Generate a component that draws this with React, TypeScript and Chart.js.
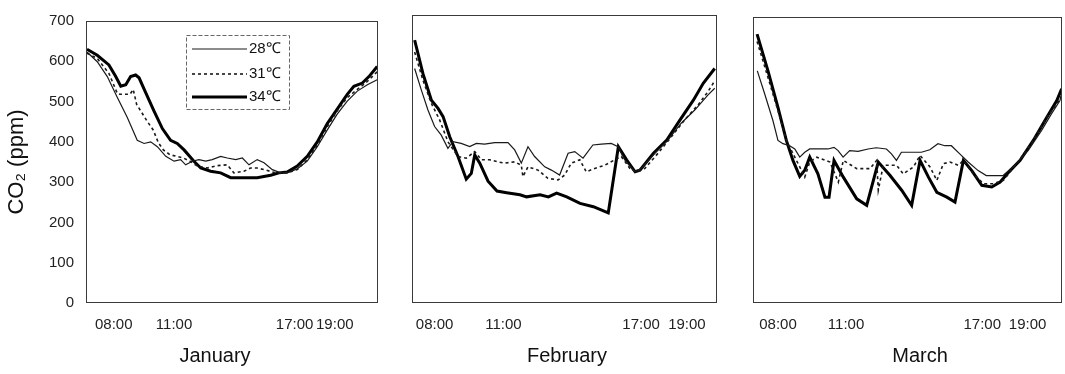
import React, { useEffect, useRef } from 'react';
import { Chart, registerables } from 'chart.js';

Chart.register(...registerables);
Chart.defaults.font.family = '"Liberation Sans", Arial, Helvetica, sans-serif';
Chart.defaults.color = '#222';

// ---- axis text ----
const tickHours = [8, 11, 17, 19];
const tickLabels = ['08:00', '11:00', '17:00', '19:00'];
const seriesLabels = ['28℃', '31℃', '34℃'];
const months = ['January', 'February', 'March'];
const yTitle = 'CO₂ (ppm)';

// ---- January (time in hours, CO2 in ppm) ----
const janTime28 = [6.67, 7.18, 7.68, 8.18, 8.67, 9.17, 9.51, 9.84, 10.17, 10.59, 11.0, 11.33, 11.58, 11.91, 12.24, 12.58, 12.9, 13.32, 13.65, 14.07, 14.4, 14.73, 15.14, 15.48, 15.89, 16.31, 16.72, 17.13, 17.63, 18.13, 18.62, 19.12, 19.62, 20.12, 20.62, 21.11];
const jan28 = [623, 599, 562, 510, 461, 404, 396, 400, 388, 364, 352, 356, 343, 352, 356, 352, 356, 364, 360, 356, 360, 343, 356, 348, 331, 323, 325, 333, 352, 388, 429, 469, 501, 526, 542, 554];
const janTime31 = [6.67, 7.18, 7.76, 8.18, 8.31, 8.81, 8.97, 9.14, 9.64, 9.97, 10.22, 10.47, 10.8, 11.13, 11.46, 11.8, 12.16, 12.65, 13.15, 13.65, 13.98, 14.48, 14.81, 15.14, 15.56, 16.06, 16.63, 17.13, 17.63, 18.13, 18.62, 19.12, 19.62, 20.12, 20.62, 21.11];
const jan31 = [620, 607, 570, 520, 518, 518, 530, 493, 453, 429, 398, 380, 368, 364, 360, 352, 340, 335, 341, 343, 323, 327, 335, 335, 330, 323, 323, 331, 356, 392, 437, 477, 510, 530, 550, 574];
const janTime34 = [6.67, 7.18, 7.76, 8.1, 8.35, 8.6, 8.84, 9.09, 9.26, 9.59, 10.0, 10.42, 10.83, 11.16, 11.5, 11.99, 12.33, 12.82, 13.32, 13.82, 15.14, 15.81, 16.22, 16.63, 17.13, 17.63, 18.13, 18.62, 19.12, 19.62, 19.95, 20.37, 20.7, 21.11];
const jan34 = [630, 615, 591, 562, 538, 542, 562, 566, 559, 522, 477, 433, 404, 396, 380, 352, 335, 327, 323, 311, 311, 317, 323, 325, 340, 364, 400, 445, 481, 518, 538, 546, 562, 587];

// ---- February ----
const febTime28 = [7.13, 7.42, 7.71, 8.0, 8.29, 8.58, 8.8, 9.16, 9.53, 9.82, 10.18, 10.62, 11.2, 11.49, 11.78, 12.07, 12.36, 12.8, 13.09, 13.45, 13.82, 14.11, 14.47, 14.9, 15.27, 15.7, 16.0, 16.29, 16.72, 17.01, 17.6, 18.17, 18.75, 19.34, 19.92, 20.21];
const feb28 = [570, 518, 469, 429, 408, 376, 392, 388, 380, 388, 386, 390, 390, 372, 340, 380, 356, 331, 323, 311, 364, 368, 352, 384, 386, 388, 380, 348, 319, 327, 364, 396, 437, 469, 506, 522];
const febTime31 = [7.13, 7.49, 7.86, 8.22, 8.58, 9.02, 9.38, 9.75, 10.04, 10.4, 10.76, 11.06, 11.49, 11.78, 11.85, 12.07, 12.51, 12.94, 13.38, 13.67, 13.96, 14.33, 14.61, 14.98, 15.42, 15.85, 16.14, 16.51, 16.79, 17.16, 17.74, 18.32, 18.9, 19.48, 19.92, 20.21];
const feb31 = [610, 542, 485, 445, 392, 356, 352, 368, 348, 348, 343, 340, 343, 335, 307, 331, 323, 303, 299, 311, 340, 348, 319, 327, 335, 348, 356, 327, 319, 327, 364, 404, 445, 481, 514, 540];
const febTime34 = [7.13, 7.49, 7.86, 8.15, 8.37, 8.66, 9.02, 9.38, 9.6, 9.75, 9.97, 10.33, 10.72, 11.14, 11.72, 12.01, 12.6, 12.96, 13.32, 13.76, 14.34, 14.92, 15.57, 16.01, 16.37, 16.74, 16.95, 17.54, 18.12, 18.7, 19.28, 19.71, 20.21];
const feb34 = [639, 558, 493, 473, 453, 404, 356, 301, 315, 360, 340, 296, 272, 268, 263, 258, 263, 258, 267, 258, 242, 234, 219, 380, 348, 319, 323, 364, 396, 445, 493, 534, 570];

// ---- March ----
const marTime28 = [7.09, 7.42, 7.78, 8.0, 8.22, 8.52, 8.74, 8.96, 9.18, 9.4, 9.84, 10.2, 10.47, 10.65, 10.87, 11.16, 11.53, 11.97, 12.33, 12.78, 13.0, 13.22, 13.44, 13.88, 14.32, 14.69, 15.05, 15.35, 15.64, 16.01, 16.38, 16.82, 17.18, 17.62, 17.92, 18.43, 19.02, 19.61, 20.05, 20.42, 20.5];
const mar28 = [568, 511, 446, 398, 390, 385, 377, 357, 369, 377, 377, 377, 381, 373, 357, 373, 371, 377, 380, 377, 365, 349, 369, 369, 369, 375, 390, 385, 385, 365, 345, 324, 312, 312, 312, 337, 373, 422, 463, 495, 510];
const marTime31 = [7.08, 7.56, 8.0, 8.37, 8.74, 8.96, 9.18, 9.4, 9.71, 10.29, 10.66, 10.88, 11.47, 12.06, 12.35, 12.42, 12.64, 13.23, 13.52, 13.97, 14.26, 14.7, 15.0, 15.29, 15.58, 15.95, 16.17, 16.61, 17.05, 17.49, 17.93, 18.52, 19.25, 19.84, 20.28, 20.5];
const mar31 = [640, 552, 471, 398, 357, 333, 308, 345, 357, 345, 296, 349, 329, 329, 349, 276, 337, 337, 316, 333, 361, 333, 300, 341, 345, 337, 349, 316, 292, 292, 300, 341, 398, 454, 487, 507];
const marTime34 = [7.08, 7.56, 8.0, 8.37, 8.66, 8.96, 9.18, 9.4, 9.76, 10.07, 10.25, 10.47, 10.88, 11.47, 11.91, 12.42, 12.94, 13.45, 13.89, 14.26, 14.63, 15.0, 15.44, 15.8, 16.17, 16.54, 16.98, 17.42, 17.79, 18.23, 18.67, 19.25, 19.84, 20.28, 20.5];
const mar34 = [658, 568, 479, 398, 349, 310, 325, 357, 316, 259, 259, 349, 308, 255, 239, 345, 312, 276, 239, 349, 308, 271, 259, 247, 349, 324, 288, 284, 296, 324, 349, 398, 454, 495, 524];

type Series = { t: number[]; v: number[] };
type Panel = {
  month: string;
  series: Series[];
  xMin: number;
  xMax: number;
  left: number;
  width: number;
  axisL: number;
  axisR: number;
  top: number;
  showY: boolean;
  legend: boolean;
};

const panels: Panel[] = [
  { month: months[0], series: [{ t: janTime28, v: jan28 }, { t: janTime31, v: jan31 }, { t: janTime34, v: jan34 }], xMin: 6.62, xMax: 21.15, left: 0, width: 430, axisL: 86, axisR: 52, top: 15, showY: true, legend: true },
  { month: months[1], series: [{ t: febTime28, v: feb28 }, { t: febTime31, v: feb31 }, { t: febTime34, v: feb34 }], xMin: 7.015, xMax: 20.31, left: 395, width: 344, axisL: 17, axisR: 22, top: 15, showY: false, legend: false },
  { month: months[2], series: [{ t: marTime28, v: mar28 }, { t: marTime31, v: mar31 }, { t: marTime34, v: mar34 }], xMin: 6.9, xMax: 20.515, left: 740, width: 360, axisL: 13, axisR: 38, top: 17, showY: false, legend: false },
];

const lineStyles = [
  { borderWidth: 1.2, borderDash: [] as number[], borderColor: '#1a1a1a' },
  { borderWidth: 1.6, borderDash: [3, 3], borderColor: '#1a1a1a' },
  { borderWidth: 3, borderDash: [] as number[], borderColor: '#000' },
];

const framePlugin = {
  id: 'frame',
  afterDatasetsDraw(chart: any) {
    const { ctx, chartArea: a } = chart;
    ctx.save();
    ctx.strokeStyle = '#3a3a3a';
    ctx.lineWidth = 1;
    ctx.setLineDash([]);
    ctx.strokeRect(a.left + 0.5, a.top + 0.5, a.right - a.left - 1, a.bottom - a.top - 1);
    ctx.restore();
  },
};

const boxLegendPlugin = {
  id: 'boxLegend',
  afterDraw(chart: any, _args: any, opts: any) {
    if (!opts || !opts.display) return;
    const { ctx, chartArea: a } = chart;
    const x0 = a.left + opts.x;
    const y0 = a.top + opts.y;
    ctx.save();
    ctx.fillStyle = '#fff';
    ctx.fillRect(x0, y0, opts.w, opts.h);
    ctx.setLineDash([4, 2]);
    ctx.strokeStyle = '#666';
    ctx.lineWidth = 1;
    ctx.strokeRect(x0 + 0.5, y0 + 0.5, opts.w, opts.h);
    chart.data.datasets.forEach((ds: any, i: number) => {
      const y = y0 + opts.rows[i];
      ctx.setLineDash(ds.borderDash || []);
      ctx.lineWidth = ds.borderWidth;
      ctx.strokeStyle = ds.borderColor;
      ctx.beginPath();
      ctx.moveTo(x0 + 6, y);
      ctx.lineTo(x0 + 61, y);
      ctx.stroke();
      ctx.setLineDash([]);
      ctx.fillStyle = '#111';
      ctx.font = '15px "Liberation Sans", Arial, sans-serif';
      ctx.textBaseline = 'middle';
      ctx.textAlign = 'left';
      ctx.fillText(ds.label, x0 + 63, y);
    });
    ctx.restore();
  },
};

function PanelChart({ p }: { p: Panel }) {
  const ref = useRef<HTMLCanvasElement>(null);
  useEffect(() => {
    const datasets = p.series.map((s, i) => ({
      label: seriesLabels[i],
      data: s.t.map((t, j) => ({ x: t, y: s.v[j] })),
      ...lineStyles[i],
      pointRadius: 0,
      tension: 0,
      fill: false,
    }));
    const chart = new Chart(ref.current as HTMLCanvasElement, {
      type: 'line',
      data: { datasets },
      plugins: [framePlugin, boxLegendPlugin],
      options: {
        responsive: false,
        animation: false,
        events: [],
        layout: { padding: { top: p.top, left: 0, right: 0, bottom: 0 } },
        scales: {
          x: {
            type: 'linear',
            min: p.xMin,
            max: p.xMax,
            grid: { display: false, drawTicks: false },
            border: { display: false },
            afterBuildTicks: (s: any) => {
              s.ticks = tickHours.map((v) => ({ value: v }));
            },
            afterFit: (s: any) => {
              s.height = 41;
            },
            ticks: {
              autoSkip: false,
              maxRotation: 0,
              padding: 13,
              font: { size: 15 },
              color: '#222',
              callback: (v: any) => {
                const k = tickHours.indexOf(Number(v));
                return k >= 0 ? tickLabels[k] : '';
              },
            },
          },
          y: {
            type: 'linear',
            position: 'left',
            min: 0,
            max: 700,
            grid: { display: false, drawTicks: false },
            border: { display: false },
            afterFit: (s: any) => {
              s.width = p.axisL;
            },
            ticks: { display: p.showY, stepSize: 100, padding: 12, font: { size: 15 }, color: '#222' },
            title: {
              display: p.showY,
              text: yTitle,
              font: { size: 22 },
              color: '#111',
              padding: { top: 4, bottom: 0 },
            },
          },
          yR: {
            type: 'linear',
            position: 'right',
            display: true,
            grid: { display: false, drawTicks: false },
            border: { display: false },
            ticks: { display: false },
            afterFit: (s: any) => {
              s.width = p.axisR;
            },
          },
        },
        plugins: {
          legend: { display: false },
          tooltip: { enabled: false },
          title: {
            display: true,
            position: 'bottom',
            text: p.month,
            font: { size: 20, weight: 'normal' },
            color: '#111',
            padding: { top: 0, bottom: 6 },
          },
          boxLegend: {
            display: p.legend,
            x: 100,
            y: 14,
            w: 103,
            h: 74,
            rows: [14, 39, 62],
          },
        } as any,
      },
    } as any);
    return () => chart.destroy();
  }, []);
  return (
    <canvas
      ref={ref}
      width={p.width}
      height={374}
      style={{ position: 'absolute', left: p.left, top: 0, width: p.width, height: 374 }}
    />
  );
}

export default function App() {
  return (
    <div
      style={{
        position: 'absolute',
        left: 0,
        top: 0,
        width: 1065,
        height: 374,
        overflow: 'hidden',
        background: '#fff',
      }}
    >
      {panels.map((p) => (
        <PanelChart key={p.month} p={p} />
      ))}
    </div>
  );
}
